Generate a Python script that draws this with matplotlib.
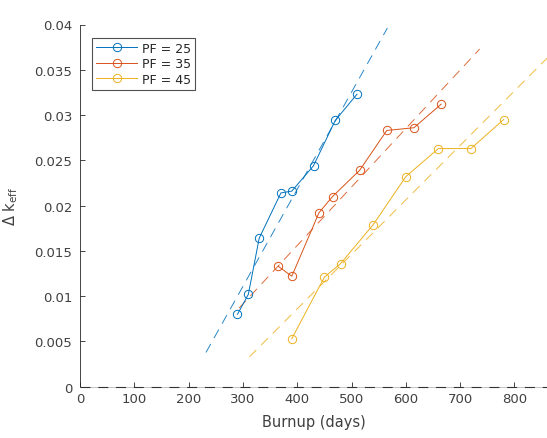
import numpy as np
import matplotlib
matplotlib.use("Agg")
import matplotlib.pyplot as plt

plt.rcParams['font.family'] = ['DejaVu Sans']

# Burnup (days) and reactivity change for each packing fraction
labels = ["PF = 25", "PF = 35", "PF = 45"]
burnup_25 = [290, 310, 330, 370, 390, 430, 470, 510]
dk_25 = [0.0080, 0.0102, 0.0164, 0.0214, 0.0216, 0.0244, 0.0294, 0.0323]
burnup_35 = [365, 390, 440, 465, 515, 565, 615, 665]
dk_35 = [0.0133, 0.0122, 0.0192, 0.0210, 0.0239, 0.0283, 0.0286, 0.0312]
burnup_45 = [390, 450, 480, 540, 600, 660, 720, 780]
dk_45 = [0.0053, 0.0121, 0.0136, 0.0179, 0.0232, 0.0263, 0.0263, 0.0295]

# span (days) over which each linear fit is drawn
fit_start = [232, 293, 312]
fit_end = [566, 736, 900]

colors = ["#0072BD", "#D95319", "#EDB120"]

xticks = [0, 100, 200, 300, 400, 500, 600, 700, 800]
yticks = [0, 0.005, 0.01, 0.015, 0.02, 0.025, 0.03, 0.035, 0.04]
ytick_labels = ["0", "0.005", "0.01", "0.015", "0.02", "0.025", "0.03", "0.035", "0.04"]

W, H = 547, 439
fig = plt.figure(figsize=(W / 100, H / 100), dpi=100)
ax = fig.add_axes([80 / W, (H - 387.7) / H, (W - 80) / W, (387.7 - 25.5) / H])

series = [(burnup_25, dk_25), (burnup_35, dk_35), (burnup_45, dk_45)]
for (x, y), c, lab, x0, x1 in zip(series, colors, labels, fit_start, fit_end):
    ax.plot(x, y, '-o', color=c, lw=0.7, ms=6, mfc='none', mew=0.7, label=lab, zorder=3)
    k, b = np.polyfit(x, y, 1)
    xf = np.array([x0, x1])
    ax.plot(xf, k * xf + b, '--', color=c, lw=0.7, dashes=(10, 7), alpha=0.85, zorder=2)

ax.set_xlim(0, 860)
ax.set_ylim(0, 0.04)
ax.axhline(0, color='#333333', lw=0.8, dashes=(9, 7), zorder=4, clip_on=False)

ax.set_xticks(xticks)
ax.set_yticks(yticks)
ax.set_yticklabels(ytick_labels)
ax.tick_params(direction='in', length=3.5, width=0.6, colors='#262626',
               labelsize=9.5, labelcolor='#404040')
ax.tick_params(axis='y', pad=5.5)
ax.tick_params(axis='x', pad=4)

for s in ['top', 'right']:
    ax.spines[s].set_visible(False)
ax.spines['left'].set_color('#262626')
ax.spines['left'].set_linewidth(0.6)
ax.spines['bottom'].set_color('#aaaaaa')
ax.spines['bottom'].set_linewidth(0.5)

ax.set_xlabel("Burnup (days)", fontsize=10.5, color='#404040')
ax.set_ylabel("Δ k$_{\\mathregular{eff}}$", fontsize=10.5, color='#404040')
ax.xaxis.set_label_coords(0.5, -0.075)
ax.yaxis.set_label_coords(-0.128, 0.5)

leg = ax.legend(loc='upper left', bbox_to_anchor=(92.3 / W, 1 - 39 / H),
                bbox_transform=fig.transFigure, fontsize=9, frameon=True,
                fancybox=False, handlelength=3.3, handletextpad=0.35,
                labelspacing=0.2, borderpad=0.3, borderaxespad=0)
leg.get_frame().set_edgecolor('#262626')
leg.get_frame().set_linewidth(0.8)
for t in leg.get_texts():
    t.set_color('#262626')

fig.savefig("out.png", dpi=100)
